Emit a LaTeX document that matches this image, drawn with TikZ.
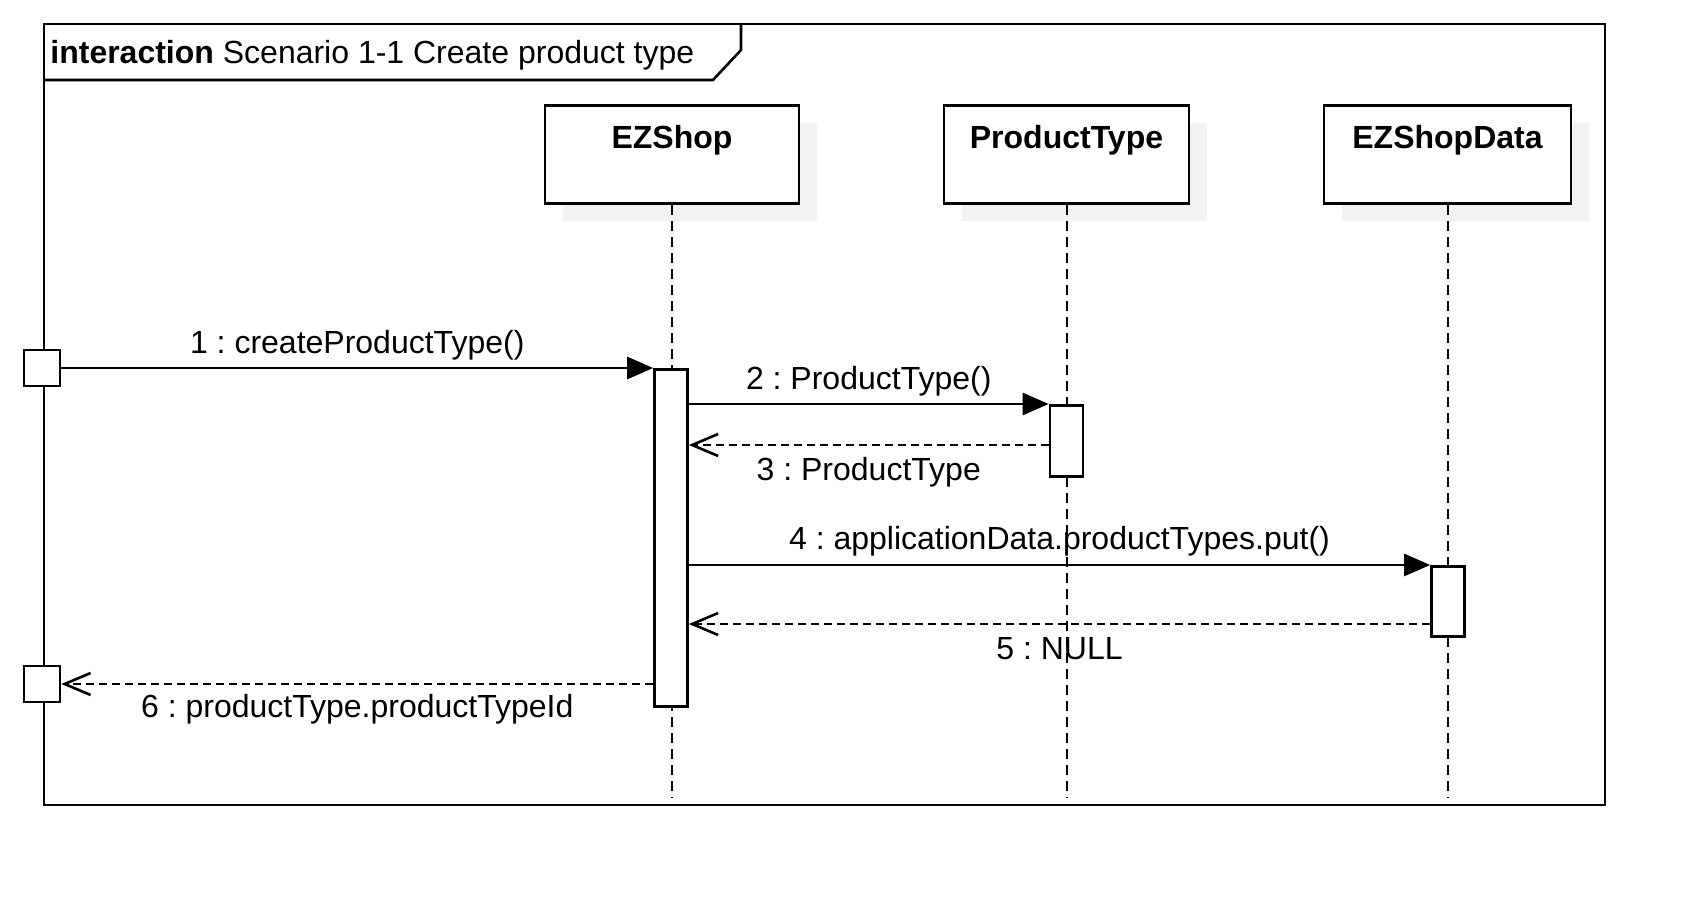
\documentclass[tikz,border=0pt]{standalone}
\usepackage{fontspec}
\setmainfont{Liberation Sans}
\frenchspacing
\usetikzlibrary{arrows.meta,shadows}
\definecolor{schatten}{HTML}{F2F2F2}
\tikzset{
  every node/.style={font=\fontsize{16}{19}\selectfont},
  rahmen/.style={line width=1.3pt},
  kopf/.style={draw, line width=1.3pt, fill=white, minimum width=#1, minimum height=49pt,
    inner sep=0pt, text height=21.5pt, text depth=27.5pt, anchor=north,
    font=\fontsize{16}{19}\selectfont\bfseries,
    drop shadow={shadow xshift=9pt, shadow yshift=-9pt, fill=schatten, opacity=1}},
  aktiv/.style={draw, line width=1.3pt, fill=white, minimum width=16.5pt, minimum height=#1,
    inner sep=0pt, anchor=north},
  tor/.style={draw, line width=1.3pt, fill=white, minimum size=18pt, inner sep=0pt},
  lebenslinie/.style={line width=1pt, dash pattern=on 5pt off 3pt},
  ruf/.style={line width=1.3pt, -{Triangle[length=13pt,width=11pt]}},
  antwort/.style={line width=1.3pt, dash pattern=on 4pt off 2.5pt, -{Straight Barb[length=13pt,width=11pt]}},
  oben/.style={midway, anchor=base, yshift=#1},
}
\begin{document}
\begin{tikzpicture}[x=0.5pt, y=-0.5pt]
  \useasboundingbox (0,0) rectangle (1705,905);
  % Rahmen mit Titel
  \draw[rahmen] (44,24) rectangle (1605,805);
  \draw[rahmen] (44,80) -- (713,80) -- (741,50) -- (741,24);
  \node[anchor=base west, inner sep=0pt] (titel) at (50,63) {\textbf{interaction} Scenario 1-1 Create product type};
  % Lebenslinien-Koepfe
  \node[kopf=127pt] (ezshop) at (672,104) {EZShop};
  \node[kopf=122.5pt] (ptype) at (1066.5,104) {ProductType};
  \node[kopf=123.5pt] (data) at (1447.5,104) {EZShopData};
  \foreach \n in {ezshop, ptype, data}
    \draw[lebenslinie] (\n.south) -- (\n.south |- 0,797);
  % Aktivierungen und Tore
  \node[aktiv=168.5pt] (akt1) at (671,368) {};
  \node[aktiv=35.5pt] (akt2) at (1066.5,404) {};
  \node[aktiv=35pt] (akt3) at (1448,565) {};
  \node[tor] (tor1) at (42,368) {};
  \node[tor] (tor2) at (42,684) {};
  % Nachrichten
  \draw[ruf] (tor1.east) -- (akt1.north west) node[oben=7.5pt] {1 : createProductType()};
  \draw[ruf] (akt1.east |- akt2.north) -- (akt2.north west) node[oben=7.5pt] {2 : ProductType()};
  \draw[antwort] (akt2.west |- 0,445) -- (akt1.east |- 0,445) node[oben=-17.5pt] {3 : ProductType};
  \draw[ruf] (akt1.east |- akt3.north) -- (akt3.north west) node[oben=8pt] {4 : applicationData.productTypes.put()};
  \draw[antwort] (akt3.west |- 0,624) -- (akt1.east |- 0,624) node[oben=-17.5pt] {5 : NULL};
  \draw[antwort] (akt1.west |- tor2.east) -- (tor2.east) node[oben=-16.5pt] {6 : productType.productTypeId};
\end{tikzpicture}
\end{document}
